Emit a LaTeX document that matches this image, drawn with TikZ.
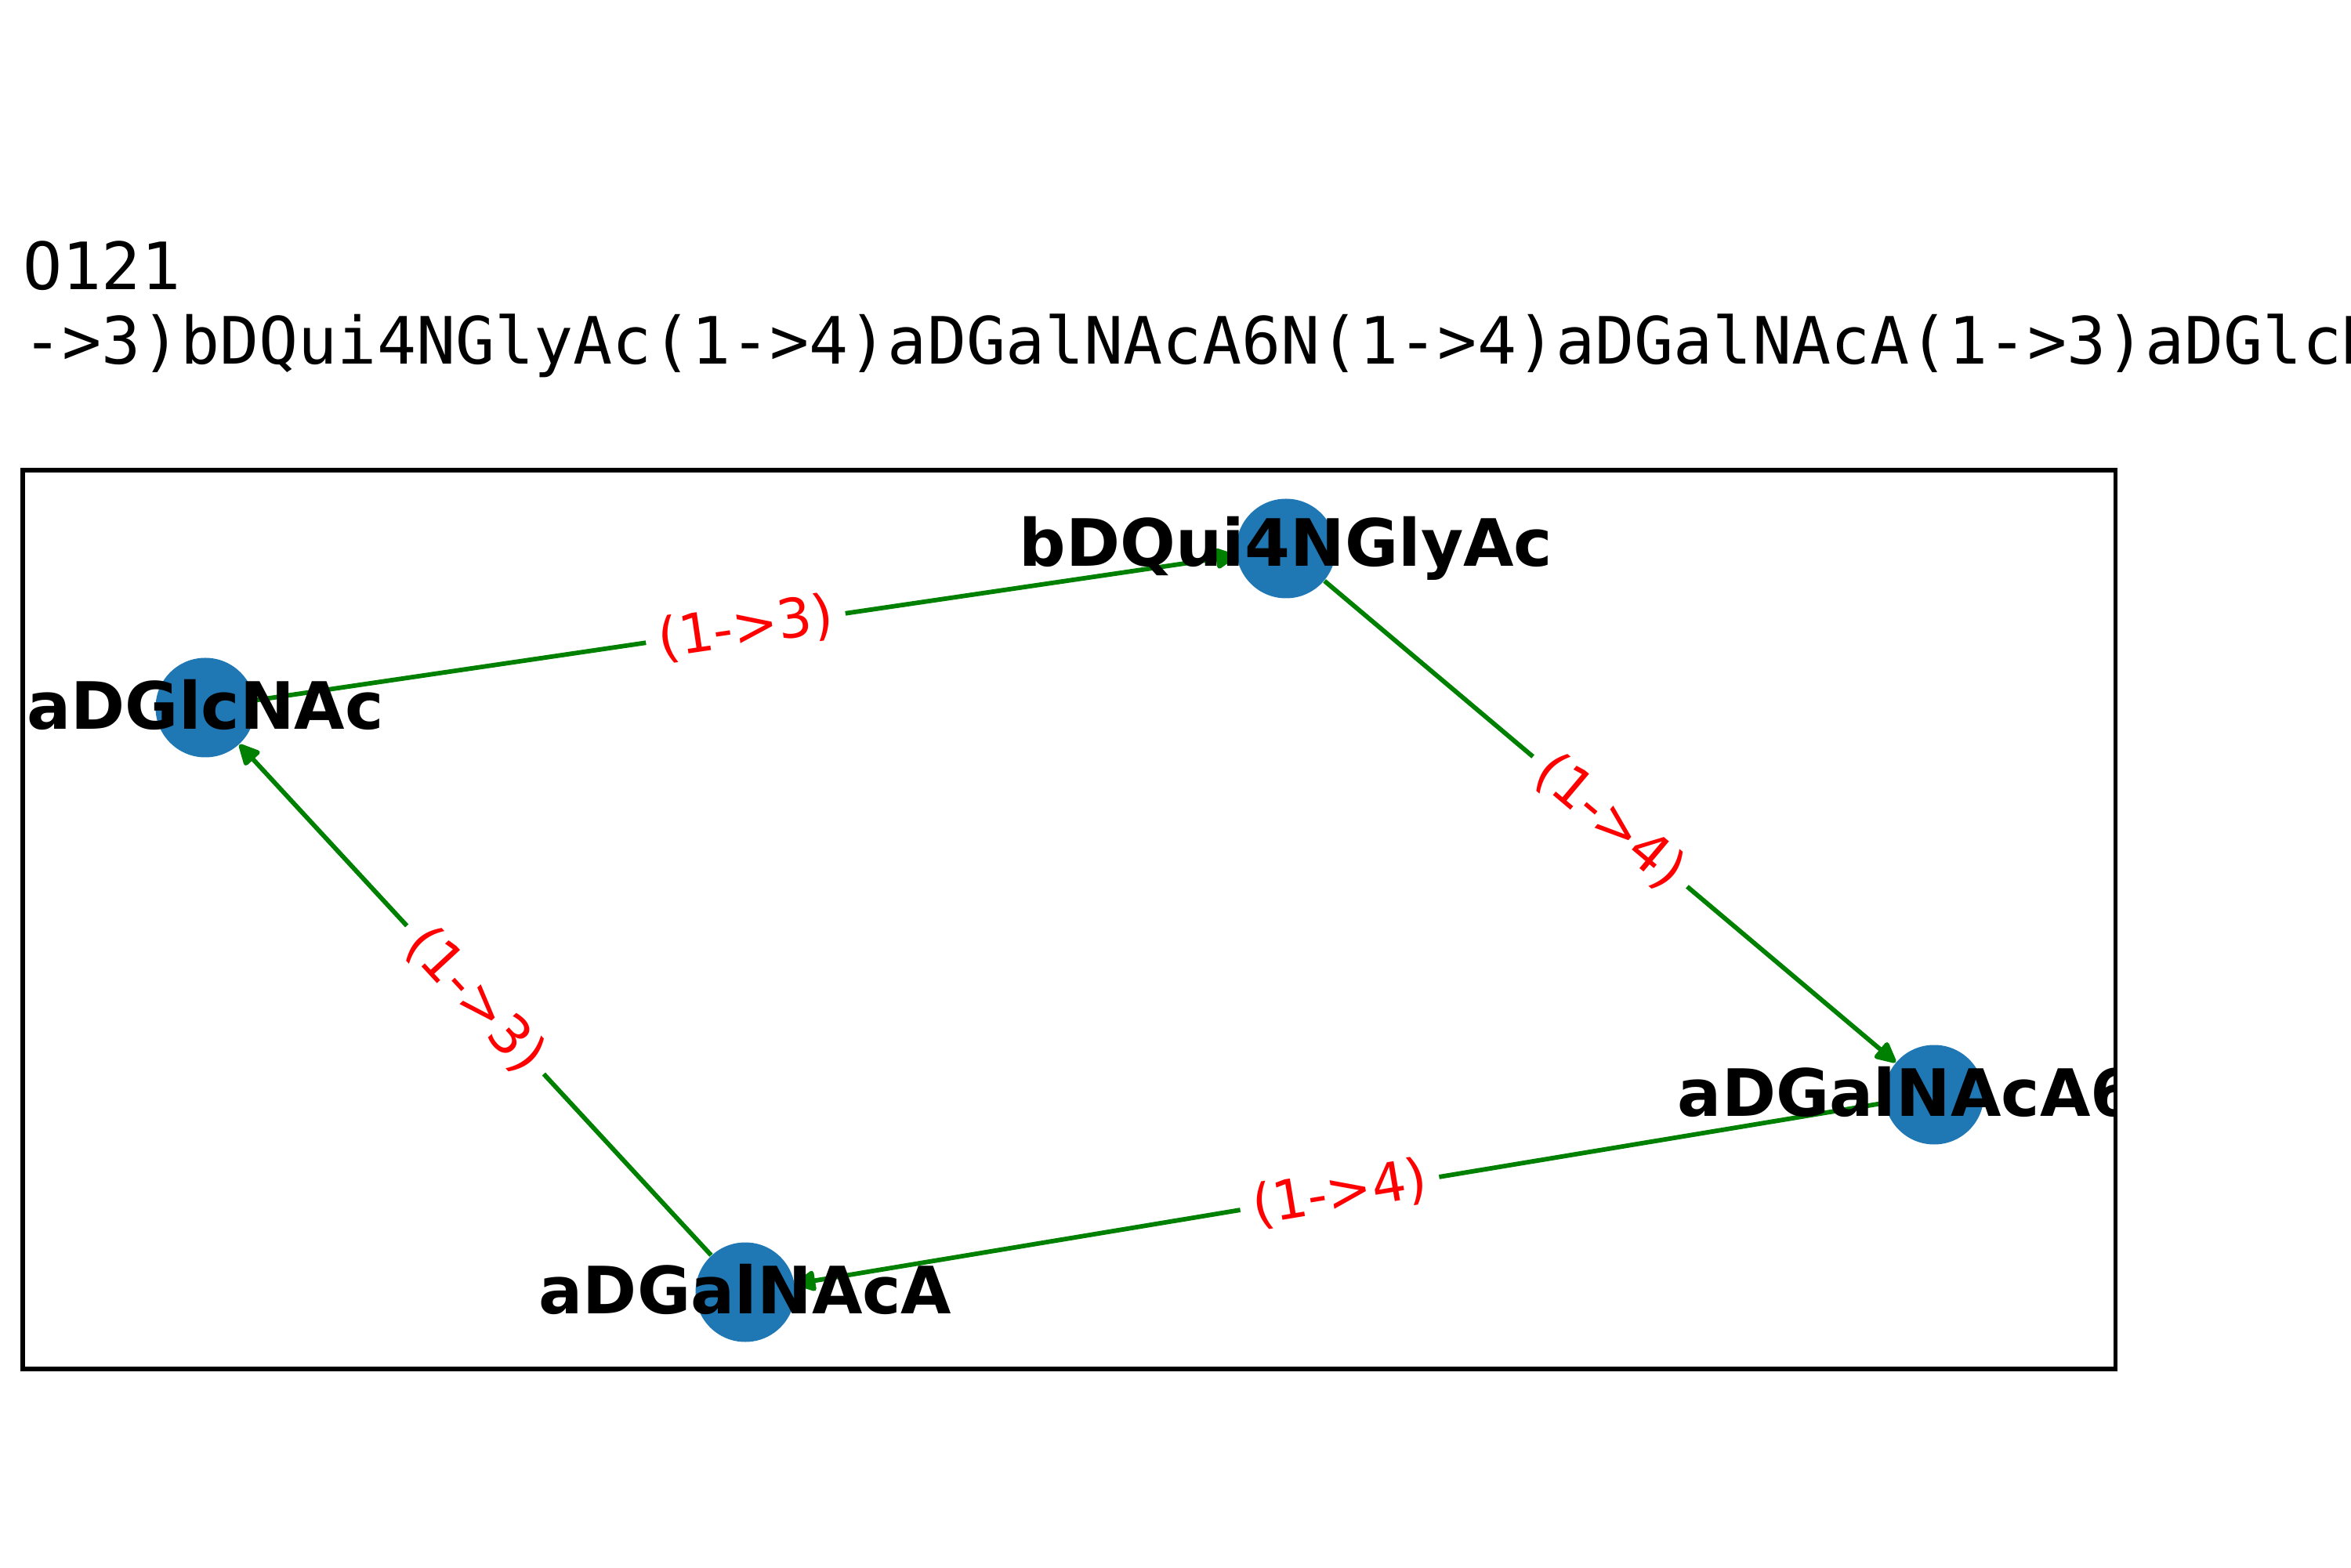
\documentclass[tikz,border=0pt]{standalone}
\usepackage{fontspec}
\setmainfont{DejaVu Sans}
\newfontfamily\monofont{DejaVu Sans Mono}
\usepackage{xcolor}
\usepackage{tikz}
\usetikzlibrary{arrows.meta}
\definecolor{sugc}{HTML}{1F77B4}
\definecolor{lnkc}{HTML}{008000}
\definecolor{labc}{HTML}{FF0000}
\tikzset{
  sug/.style={circle,fill=sugc,minimum size=1.27cm,inner sep=0pt},
  sugname/.style={inner sep=0pt,font=\fontsize{23.7}{28}\selectfont\bfseries},
  lnk/.style={-{Triangle[length=3mm,width=2.8mm,round]},line width=0.58mm,lnkc},
  lnklab/.style={sloped,fill=white,text=labc,inner sep=1.6mm,font=\fontsize{19.7}{23}\selectfont},
  ttl/.style={anchor=base west,inner sep=0pt,font=\monofont\fontsize{23.7}{28}\selectfont}
}
\begin{document}
\begin{tikzpicture}
\useasboundingbox (0,0) rectangle (30,20);
\clip (0,0) rectangle (30,20);
% title
\node[ttl] (name) at (0.29,16.30) {O121};
\node[ttl] (chain) at (0.29,15.35) {->3)bDQui4NGlyAc(1->4)aDGalNAcA6N(1->4)aDGalNAcA(1->3)aDGlcNAc(1-};
% frame
\draw[line width=0.55mm] (0.29,2.53) rectangle (26.995,14.00);
% residues
\node[sug] (glc) at (2.62,10.97) {};
\node[sug] (qui) at (16.41,13.00) {};
\node[sug] (a6n) at (24.68,6.03) {};
\node[sug] (gala) at (9.51,3.51) {};
% links
\draw[lnk] (glc) -- node[lnklab] {(1->3)} (qui);
\draw[lnk] (qui) -- node[lnklab] {(1->4)} (a6n);
\draw[lnk] (a6n) -- node[lnklab] {(1->4)} (gala);
\draw[lnk] (gala) -- node[lnklab] {(1->3)} (glc);
% residue names
\begin{scope}
\clip (0.29,2.53) rectangle (26.995,14.00);
\node[sugname] at ([yshift=0.04cm]glc) {aDGlcNAc};
\node[sugname] at (qui) {bDQui4NGlyAc};
\node[sugname] at ([yshift=0.04cm]a6n) {aDGalNAcA6N};
\node[sugname] at ([yshift=0.04cm]gala) {aDGalNAcA};
\end{scope}
\end{tikzpicture}
\end{document}
